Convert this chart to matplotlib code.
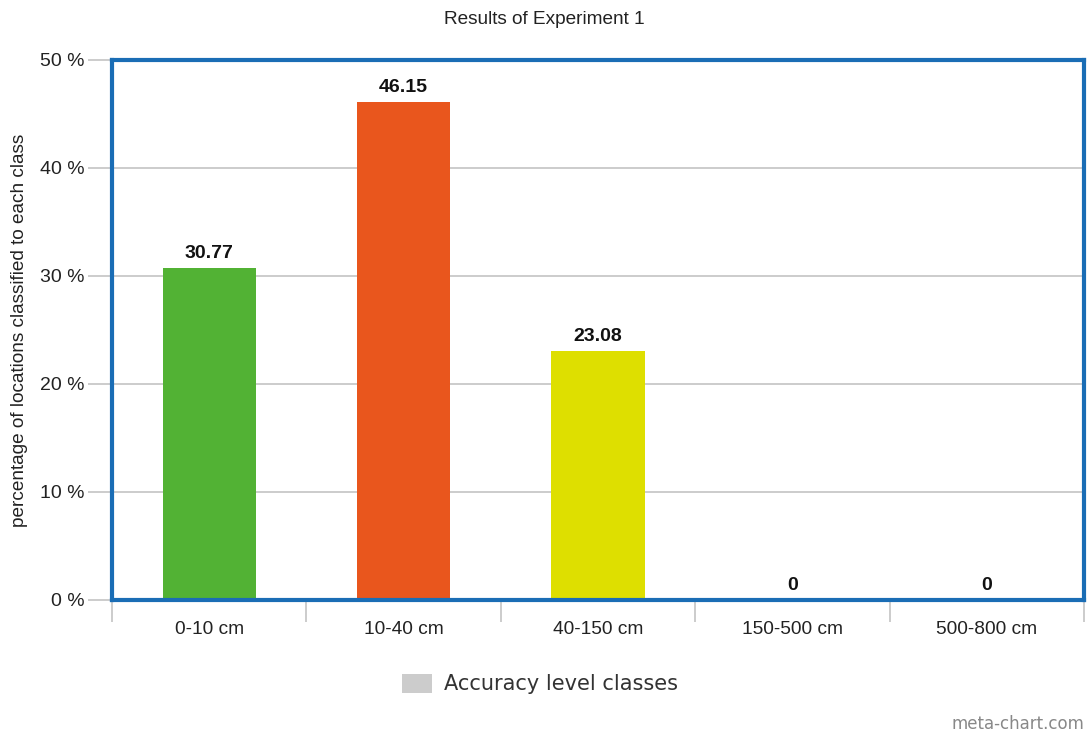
import numpy as np
import matplotlib.pyplot as plt
import matplotlib.patches as patches

categories = ['0-10 cm', '10-40 cm', '40-150 cm', '150-500 cm', '500-800 cm']
values = [30.77, 46.15, 23.08, 0, 0]
value_labels = ['30.77', '46.15', '23.08', '0', '0']
bar_colors = ['#52b234', '#e9561d', '#dedf00', '#4d7fd0', '#9a4fb0']
y_ticks = [0, 10, 20, 30, 40, 50]

plt.rcParams['font.family'] = ['Liberation Sans', 'DejaVu Sans']

fig = plt.figure(figsize=(10.89, 7.36), dpi=100)
ax = fig.add_axes([112 / 1089, 1 - 600 / 736, (1084 - 112) / 1089, 540 / 736])

x = np.arange(len(categories))
ax.bar(x, values, width=0.48, color=bar_colors, zorder=2)

for xi, v, lab in zip(x, values, value_labels):
    ax.annotate(lab, (xi, v), xytext=(0, 4), textcoords='offset points',
                ha='center', va='bottom', fontsize=14, fontweight='bold',
                color='#111111')

ax.set_xlim(-0.5, len(categories) - 0.5)
ax.set_ylim(0, 50)
ax.set_yticks(y_ticks)
ax.set_yticklabels([f'{t} %' for t in y_ticks], fontsize=14, color='#222222')
ax.yaxis.grid(True, color='#c4c4c4', linewidth=1.2, zorder=0)
ax.tick_params(axis='y', length=17, color='#c4c4c4', width=1.2, pad=3)

ax.set_xticks(x)
ax.set_xticklabels(categories, fontsize=13.8, color='#222222')
ax.set_xticks(np.arange(len(categories) + 1) - 0.5, minor=True)
ax.tick_params(axis='x', which='major', length=0, pad=15)
ax.tick_params(axis='x', which='minor', length=16, color='#c4c4c4', width=1.2)

for side in ['top', 'bottom', 'left', 'right']:
    ax.spines[side].set_color('#1a6db5')
    ax.spines[side].set_linewidth(3)

ax.set_ylabel('percentage of locations classified to each class', fontsize=13.7,
              color='#222222', labelpad=8)
fig.suptitle('Results of Experiment 1', y=0.985, fontsize=13.7, color='#222222')

handle = patches.Patch(facecolor='#cccccc', edgecolor='none')
fig.legend([handle], ['Accuracy level classes'], loc='center',
           bbox_to_anchor=(540 / 1089, 1 - 684 / 736), frameon=False,
           prop={'family': 'DejaVu Sans', 'size': 15}, labelcolor='#333333',
           handlelength=1.45, handleheight=1.05, handletextpad=0.6)

fig.text(1084 / 1089, 1 - 724 / 736, 'meta-chart.com', ha='right', va='center',
         fontsize=12, color='#888888', family='DejaVu Sans')

fig.savefig('out.png', dpi=100)
